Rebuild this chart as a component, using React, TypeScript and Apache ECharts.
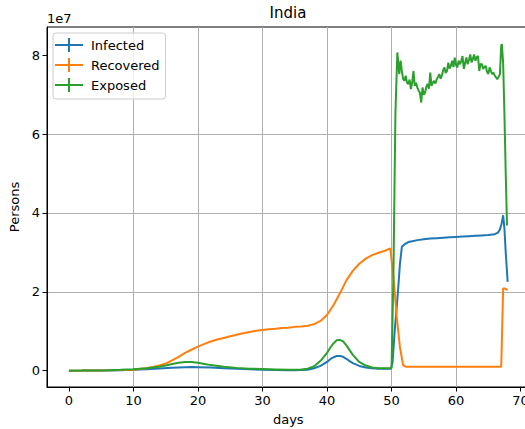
import React, { useEffect, useRef } from "react";
import * as echarts from "echarts";

// values in units of 1e7 persons, x in days
const infected: [number, number][] = [
  [0, 0], [2, 0.001], [4, 0.003], [6, 0.006], [8, 0.012], [10, 0.02], [12, 0.035], [14, 0.055],
  [16, 0.075], [18, 0.088], [19, 0.09], [20, 0.088], [22, 0.078], [24, 0.062], [26, 0.048],
  [28, 0.035], [30, 0.025], [32, 0.015], [34, 0.01], [35, 0.01], [36, 0.015], [37, 0.025],
  [38, 0.06], [39, 0.12], [40, 0.22], [40.5, 0.29], [41, 0.34], [41.5, 0.37], [42, 0.37],
  [42.5, 0.35], [43, 0.3], [43.5, 0.24], [44, 0.19], [45, 0.12], [46, 0.08], [47, 0.06],
  [48, 0.05], [49, 0.05], [49.9, 0.05], [50.15, 0.2], [50.5, 1.03], [50.8, 1.6], [51.05, 2.12],
  [51.3, 2.7], [51.6, 3.14], [52, 3.2], [52.6, 3.26], [53.4, 3.29], [54, 3.31], [55, 3.33],
  [56, 3.35], [57, 3.36], [58, 3.37], [59, 3.38], [60, 3.39], [61, 3.4], [62, 3.41], [63, 3.42],
  [64, 3.43], [65, 3.44], [66, 3.46], [66.5, 3.5], [66.8, 3.58], [67.1, 3.75], [67.3, 3.94],
  [67.5, 3.6], [67.7, 3.0], [68, 2.25],
];

const recovered: [number, number][] = [
  [0, 0], [2, 0.001], [4, 0.003], [6, 0.008], [8, 0.015], [10, 0.025], [11, 0.04], [12, 0.06],
  [13, 0.09], [14, 0.13], [15, 0.18], [16, 0.26], [17, 0.35], [18, 0.45], [19, 0.53], [20, 0.61],
  [21, 0.68], [22, 0.74], [23, 0.79], [24, 0.83], [25, 0.87], [26, 0.91], [27, 0.95], [28, 0.98],
  [29, 1.01], [30, 1.03], [31, 1.05], [32, 1.06], [33, 1.08], [34, 1.09], [35, 1.11], [36, 1.12],
  [37, 1.14], [38, 1.18], [39, 1.26], [40, 1.41], [41, 1.66], [42, 1.96], [43, 2.29], [44, 2.53],
  [45, 2.71], [46, 2.84], [47, 2.93], [48, 2.99], [49, 3.04], [49.8, 3.1], [50.3, 2.38],
  [50.8, 1.37], [51.3, 0.6], [51.8, 0.14], [52.2, 0.1], [55, 0.1], [60, 0.1], [65, 0.1],
  [67, 0.1], [67.3, 2.08], [67.6, 2.08], [68, 2.04],
];

const exposed: [number, number][] = [
  [0, 0], [2, 0.001], [4, 0.004], [6, 0.01], [8, 0.02], [10, 0.035], [12, 0.06], [14, 0.1],
  [15, 0.13], [16, 0.17], [17, 0.2], [18, 0.22], [19, 0.22], [20, 0.2], [21, 0.17], [22, 0.14],
  [24, 0.1], [26, 0.07], [28, 0.05], [30, 0.04], [32, 0.03], [34, 0.02], [36, 0.03], [37, 0.05],
  [38, 0.11], [39, 0.25], [40, 0.45], [40.5, 0.58], [41, 0.69], [41.5, 0.77], [42, 0.78],
  [42.5, 0.74], [43, 0.64], [43.5, 0.52], [44, 0.4], [45, 0.22], [46, 0.13], [47, 0.08],
  [48, 0.06], [49, 0.06], [50.0, 0.06], [50.3, 2.5], [50.6, 6.5], [50.9, 8.07], [51.2, 7.52],
  [51.4, 7.86], [51.6, 7.6], [51.8, 7.4], [52.0, 7.35], [52.2, 7.48], [52.4, 7.3], [52.6, 7.27],
  [52.8, 7.38], [53.0, 7.14], [53.2, 7.3], [53.4, 7.6], [53.6, 7.22], [53.8, 7.3], [54.0, 7.18],
  [54.2, 7.1], [54.4, 7.05], [54.6, 6.8], [54.8, 7.18], [55.0, 7.0], [55.2, 7.05], [55.4, 7.2],
  [55.6, 7.27], [55.8, 7.15], [56.0, 7.56], [56.2, 7.22], [56.4, 7.3], [56.6, 7.35], [56.8, 7.28],
  [57.0, 7.39], [57.2, 7.45], [57.4, 7.52], [57.6, 7.4], [57.8, 7.48], [58.0, 7.62], [58.2, 7.69],
  [58.4, 7.55], [58.6, 7.6], [58.8, 7.81], [59.0, 7.66], [59.2, 7.73], [59.4, 7.86], [59.6, 7.7],
  [59.8, 7.94], [60.0, 7.75], [60.2, 7.69], [60.4, 7.86], [60.6, 7.77], [60.8, 7.85], [61.0, 7.98],
  [61.2, 7.65], [61.4, 7.8], [61.6, 7.94], [61.8, 7.77], [62.0, 7.88], [62.2, 8.02], [62.4, 7.82],
  [62.6, 7.9], [62.8, 8.02], [63.0, 7.86], [63.2, 7.95], [63.4, 7.98], [63.6, 7.6], [63.8, 7.78],
  [64.0, 7.77], [64.2, 7.65], [64.4, 7.7], [64.6, 7.73], [64.8, 7.58], [65.0, 7.52], [65.2, 7.69],
  [65.4, 7.6], [65.6, 7.52], [65.8, 7.56], [66.0, 7.48], [66.2, 7.44], [66.4, 7.39], [66.6, 7.45],
  [66.8, 7.52], [67.0, 8.24], [67.1, 8.28], [67.3, 7.8], [67.5, 6.5], [67.7, 5.0], [67.9, 3.68],
];

const xTicks = [0, 10, 20, 30, 40, 50, 60, 70];
const yTicks = [0, 2, 4, 6, 8];
const seriesNames = ["Infected", "Recovered", "Exposed"];
const colors = ["#1f77b4", "#ff7f0e", "#2ca02c"];

const FONT = "DejaVu Sans";
const ICON = "path://M0,6h28v2h-28z M13,0h2v14h-2z";

export default function App() {
  const ref = useRef<HTMLDivElement>(null);
  useEffect(() => {
    const chart = echarts.init(ref.current!, null, { renderer: "svg" });
    const axisCommon = {
      type: "value" as const,
      axisLine: { show: true, onZero: false, lineStyle: { color: "#000", width: 1 } },
      splitLine: {
        show: true,
        showMinLine: false,
        showMaxLine: false,
        lineStyle: { color: "#b0b0b0", width: 1 },
      },
      nameLocation: "middle" as const,
      nameTextStyle: { fontFamily: FONT, fontSize: 13, color: "#000" },
    };
    chart.setOption({
      animation: false,
      backgroundColor: "#fff",
      textStyle: { fontFamily: FONT },
      grid: {
        left: 47,
        top: 27,
        bottom: 42,
        right: -4.6,
        containLabel: false,
        outerBoundsMode: "none",
        show: true,
        borderColor: "#000",
        borderWidth: 1,
        backgroundColor: "transparent",
      },
      xAxis: {
        ...axisCommon,
        min: -3.4,
        max: 71.4,
        splitNumber: 7,
        name: "days",
        nameGap: 26,
        axisTick: { show: true, length: 4.5, lineStyle: { color: "#000" }, customValues: xTicks },
        axisLabel: {
          customValues: xTicks,
          color: "#000",
          fontSize: 13,
          fontFamily: FONT,
          margin: 7,
          hideOverlap: false,
        },
      },
      yAxis: {
        ...axisCommon,
        min: -0.415,
        max: 8.715,
        splitNumber: 5,
        name: "Persons",
        nameGap: 26,
        axisTick: { show: true, length: 4.5, lineStyle: { color: "#000" }, customValues: yTicks },
        axisLabel: {
          customValues: yTicks,
          color: "#000",
          fontSize: 13,
          fontFamily: FONT,
          margin: 7,
        },
      },
      legend: {
        orient: "vertical",
        left: 53,
        top: 33,
        padding: [5, 6, 7, 2],
        itemGap: 6,
        itemWidth: 34,
        itemHeight: 14,
        backgroundColor: "rgba(255,255,255,0.8)",
        borderColor: "#cccccc",
        borderWidth: 1,
        borderRadius: 3,
        textStyle: { fontSize: 13, color: "#000", fontFamily: FONT },
        data: seriesNames.map((n) => ({ name: n, icon: ICON })),
      },
      graphic: [
        {
          type: "text",
          x: 288,
          y: 13,
          style: {
            text: "India",
            font: `15px ${FONT}`,
            fill: "#000",
            textAlign: "center",
            textVerticalAlign: "middle",
          },
        },
        {
          type: "text",
          x: 47,
          y: 18,
          style: {
            text: "1e7",
            font: `13px ${FONT}`,
            fill: "#000",
            textAlign: "left",
            textVerticalAlign: "middle",
          },
        },
      ],
      series: [infected, recovered, exposed].map((d, i) => ({
        name: seriesNames[i],
        type: "line",
        data: d,
        showSymbol: false,
        symbol: "none",
        color: colors[i],
        lineStyle: { width: 2, color: colors[i] },
        z: 2 + i,
      })),
    });
    return () => chart.dispose();
  }, []);
  return (
    <div
      ref={ref}
      style={{ position: "absolute", left: 0, top: 0, width: 525, height: 429 }}
    />
  );
}
